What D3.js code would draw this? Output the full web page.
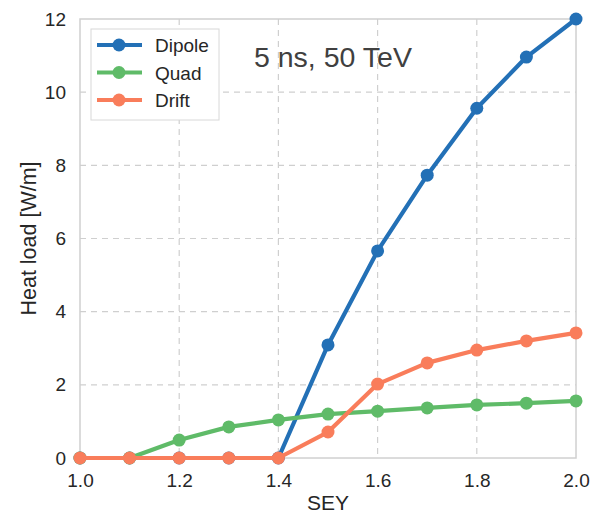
<!DOCTYPE html>
<html>
<head>
<meta charset="utf-8">
<script src="https://cdn.jsdelivr.net/npm/d3@7"></script>
<style>
  body { margin: 0; background: #fff; }
  svg text { font-family: "Liberation Sans", Arial, sans-serif; }
</style>
</head>
<body>
<div id="chart"></div>
<script>
// data
const sey = [1.0, 1.1, 1.2, 1.3, 1.4, 1.5, 1.6, 1.7, 1.8, 1.9, 2.0];
const dipole = [0, 0, 0, 0, 0, 3.09, 5.66, 7.73, 9.56, 10.96, 12.0];
const quad = [0, 0, 0.49, 0.85, 1.04, 1.2, 1.28, 1.37, 1.45, 1.5, 1.56];
const drift = [0, 0, 0, 0, 0, 0.71, 2.02, 2.6, 2.95, 3.2, 3.42];
const xTicks = [1.0, 1.2, 1.4, 1.6, 1.8, 2.0];
const yTicks = [0, 2, 4, 6, 8, 10, 12];

const series = [
  { name: "Dipole", values: dipole, color: "#2370b6" },
  { name: "Quad", values: quad, color: "#5fbb68" },
  { name: "Drift", values: drift, color: "#f97d5b" }
];

const width = 592, height = 515;
const margin = { top: 19, right: 16, bottom: 57, left: 80 };
const innerW = width - margin.left - margin.right;
const innerH = height - margin.top - margin.bottom;

const svg = d3.select("#chart").append("svg")
  .attr("width", width)
  .attr("height", height);

const chart = svg.append("g")
  .attr("transform", `translate(${margin.left}, ${margin.top})`);

const x = d3.scaleLinear().domain([1.0, 2.0]).range([0, innerW]);
const y = d3.scaleLinear().domain([0, 12]).range([innerH, 0]);

// grid
chart.append("g").selectAll("line")
  .data(xTicks.slice(1, -1))
  .enter().append("line")
  .attr("x1", d => x(d)).attr("x2", d => x(d))
  .attr("y1", 0).attr("y2", innerH)
  .attr("stroke", "#cfcfcf").attr("stroke-width", 1.2)
  .attr("stroke-dasharray", "6,5");

chart.append("g").selectAll("line")
  .data(yTicks.slice(1, -1))
  .enter().append("line")
  .attr("x1", 0).attr("x2", innerW)
  .attr("y1", d => y(d)).attr("y2", d => y(d))
  .attr("stroke", "#cfcfcf").attr("stroke-width", 1.2)
  .attr("stroke-dasharray", "6,5");

// axes
const xAxis = chart.append("g")
  .attr("transform", `translate(0, ${innerH})`)
  .call(d3.axisBottom(x).tickValues(xTicks).tickFormat(d3.format(".1f")).tickSize(0).tickPadding(16));
const yAxis = chart.append("g")
  .call(d3.axisLeft(y).tickValues(yTicks).tickSize(0).tickPadding(14));

[xAxis, yAxis].forEach(a => {
  a.select(".domain").remove();
  a.selectAll("text")
    .attr("font-family", "'Liberation Sans', Arial, sans-serif")
    .attr("font-size", "19px")
    .attr("fill", "#262626");
});

// frame
chart.append("rect")
  .attr("width", innerW).attr("height", innerH)
  .attr("fill", "none")
  .attr("stroke", "#d0d0d0").attr("stroke-width", 1.5);

// lines and markers
const line = d3.line()
  .x((d, i) => x(sey[i]))
  .y(d => y(d));

series.forEach(s => {
  chart.append("path")
    .datum(s.values)
    .attr("d", line)
    .attr("fill", "none")
    .attr("stroke", s.color)
    .attr("stroke-width", 4.2)
    .attr("stroke-linejoin", "round");
  chart.append("g").selectAll("circle")
    .data(s.values)
    .enter().append("circle")
    .attr("cx", (d, i) => x(sey[i]))
    .attr("cy", d => y(d))
    .attr("r", 6.5)
    .attr("fill", s.color);
});

// axis titles
svg.append("text")
  .attr("x", margin.left + innerW / 2)
  .attr("y", 510)
  .attr("text-anchor", "middle")
  .attr("font-size", "21px")
  .attr("fill", "#262626")
  .text("SEY");

svg.append("text")
  .attr("transform", `translate(36, ${margin.top + innerH / 2}) rotate(-90)`)
  .attr("text-anchor", "middle")
  .attr("font-size", "21.5px")
  .attr("fill", "#262626")
  .text("Heat load [W/m]");

// annotation
svg.append("text")
  .attr("x", 254)
  .attr("y", 67)
  .attr("font-family", "'Open Sans', 'Noto Sans', sans-serif")
  .attr("font-size", "28.5px")
  .attr("fill", "#404040")
  .text("5 ns, 50 TeV");

// legend
const legend = svg.append("g")
  .attr("transform", "translate(91, 29)");

legend.append("rect")
  .attr("width", 128).attr("height", 91)
  .attr("fill", "#fff")
  .attr("stroke", "#d8d8d8").attr("stroke-width", 1);

const items = legend.selectAll(".legend-item")
  .data(series)
  .enter().append("g")
  .attr("class", "legend-item")
  .attr("transform", (d, i) => `translate(0, ${16 + i * 27.5})`);

items.append("line")
  .attr("x1", 6).attr("x2", 51)
  .attr("stroke", d => d.color)
  .attr("stroke-width", 4.2);

items.append("circle")
  .attr("cx", 28).attr("r", 6.5)
  .attr("fill", d => d.color);

items.append("text")
  .attr("x", 64).attr("y", 7)
  .attr("font-size", "19px")
  .attr("fill", "#262626")
  .text(d => d.name);
</script>
</body>
</html>
